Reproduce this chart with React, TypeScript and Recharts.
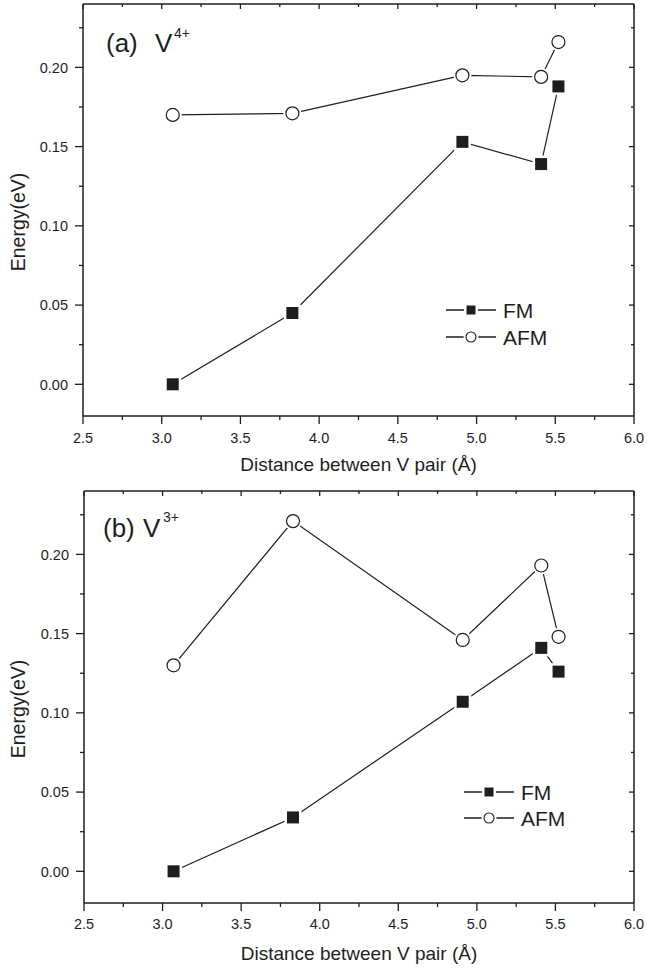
import React from 'react';
import { LineChart, Line, XAxis, YAxis, Legend, ReferenceLine, Label } from 'recharts';

// ---- data ----
const distances = [3.07, 3.83, 4.91, 5.41, 5.52];
const fmV4 = [0.0, 0.045, 0.153, 0.139, 0.188];
const afmV4 = [0.17, 0.171, 0.195, 0.194, 0.216];
const fmV3 = [0.0, 0.034, 0.107, 0.141, 0.126];
const afmV3 = [0.13, 0.221, 0.146, 0.193, 0.148];
const xTicks = [2.5, 2.75, 3.0, 3.25, 3.5, 3.75, 4.0, 4.25, 4.5, 4.75, 5.0, 5.25, 5.5, 5.75, 6.0];
const yTicks = [0, 0.025, 0.05, 0.075, 0.1, 0.125, 0.15, 0.175, 0.2, 0.225];
const xDomain: [number, number] = [2.5, 6.0];
const yDomain: [number, number] = [-0.02, 0.24];
const xTitle = 'Distance between V pair (\u00C5)';
const yTitle = 'Energy(eV)';
const seriesOrder = ['fm', 'afm'];

const dataV4 = distances.map((x, i) => ({ x, fm: fmV4[i], afm: afmV4[i] }));
const dataV3 = distances.map((x, i) => ({ x, fm: fmV3[i], afm: afmV3[i] }));

const FONT = '"Liberation Sans", Arial, Helvetica, sans-serif';
const INK = '#1e1e1e';

const SquareDot = (props: any) => {
  const { cx, cy } = props;
  if (cx == null || cy == null) return null;
  return (
    <g>
      <rect x={cx - 8.5} y={cy - 8.5} width={17} height={17} fill="#fff" />
      <rect x={cx - 6} y={cy - 6} width={12} height={12} fill={INK} />
    </g>
  );
};

const CircleDot = (props: any) => {
  const { cx, cy } = props;
  if (cx == null || cy == null) return null;
  return (
    <g>
      <circle cx={cx} cy={cy} r={9} fill="#fff" />
      <circle cx={cx} cy={cy} r={6.5} fill="#fff" stroke={INK} strokeWidth={1.2} />
    </g>
  );
};

const makeXTick = (plotH: number, labelDy: number) => (props: any) => {
  const { x, y, payload } = props;
  const v = payload.value as number;
  const major = Math.round(v * 100) % 50 === 0;
  const len = major ? 8 : 4;
  return (
    <g>
      <line x1={x} x2={x} y1={y} y2={y + len} stroke={INK} strokeWidth={1.3} />
      <line x1={x} x2={x} y1={y - plotH} y2={y - plotH + (major ? 5 : 3)} stroke={INK} strokeWidth={1.3} />
      {major && (
        <text x={x} y={y + labelDy} textAnchor="middle" fontSize={14.5} fontFamily={FONT} fill={INK}>
          {v.toFixed(1)}
        </text>
      )}
    </g>
  );
};

const makeYTick = (plotW: number) => (props: any) => {
  const { x, y, payload } = props;
  const v = payload.value as number;
  const major = Math.round(v * 1000) % 50 === 0;
  const len = major ? 8 : 4;
  return (
    <g>
      <line x1={x} x2={x - len} y1={y} y2={y} stroke={INK} strokeWidth={1.3} />
      <line x1={x + plotW} x2={x + plotW - (major ? 5 : 3)} y1={y} y2={y} stroke={INK} strokeWidth={1.3} />
      {major && (
        <text x={x - 15} y={y} dy="0.36em" textAnchor="end" fontSize={14.5} fontFamily={FONT} fill={INK}>
          {v.toFixed(2)}
        </text>
      )}
    </g>
  );
};

const makeLegend = (rowGap: number) => (props: any) => {
  const payload = ([...(props.payload || [])] as any[]).sort(
    (a, b) => seriesOrder.indexOf(String(a.dataKey)) - seriesOrder.indexOf(String(b.dataKey))
  );
  return (
    <svg width={140} height={60} style={{ display: 'block', overflow: 'visible' }}>
      {payload.map((item: any, i: number) => {
        const cy = 14 + i * rowGap;
        const isFM = item.dataKey === 'fm';
        return (
          <g key={String(item.dataKey)}>
            <line x1={0} x2={50} y1={cy} y2={cy} stroke={INK} strokeWidth={1.3} />
            {isFM ? (
              <g>
                <rect x={25 - 7} y={cy - 7} width={14} height={14} fill="#fff" />
                <rect x={25 - 4.5} y={cy - 4.5} width={9} height={9} fill={INK} />
              </g>
            ) : (
              <g>
                <circle cx={25} cy={cy} r={7.5} fill="#fff" />
                <circle cx={25} cy={cy} r={5} fill="#fff" stroke={INK} strokeWidth={1.1} />
              </g>
            )}
            <text x={57} y={cy} dy="0.36em" fontSize={21} fontFamily={FONT} fill={INK}>
              {item.value}
            </text>
          </g>
        );
      })}
    </svg>
  );
};

interface PanelProps {
  data: any[];
  height: number;
  marginTop: number;
  yAxisWidth: number;
  xAxisHeight: number;
  titleDy: number;
  labelDy: number;
  legendLeft: number;
  legendTop: number;
  legendGap: number;
  tag: string;
  sup: string;
  tagX: number;
  vX: number;
  supX: number;
  baseY: number;
  supY: number;
}

const Panel = (p: PanelProps) => {
  const width = 647;
  const marginRight = 13;
  const plotW = width - marginRight - p.yAxisWidth;
  const plotH = p.height - p.marginTop - p.xAxisHeight;
  return (
    <LineChart
      width={width}
      height={p.height}
      data={p.data}
      margin={{ top: p.marginTop, right: marginRight, bottom: 0, left: 0 }}
    >
      <XAxis
        type="number"
        dataKey="x"
        domain={xDomain}
        ticks={xTicks}
        interval={0}
        allowDataOverflow
        height={p.xAxisHeight}
        tickSize={0}
        tickMargin={0}
        tickLine={false}
        tick={makeXTick(plotH, p.labelDy)}
        axisLine={{ stroke: INK, strokeWidth: 1.5 }}
      >
        <Label
          content={(lp: any) => {
            const vb = lp.viewBox || {};
            return (
              <text
                x={vb.x + vb.width / 2}
                y={vb.y + p.titleDy}
                textAnchor="middle"
                fontSize={19}
                fontFamily={FONT}
                fill={INK}
              >
                {xTitle}
              </text>
            );
          }}
        />
      </XAxis>
      <YAxis
        type="number"
        domain={yDomain}
        ticks={yTicks}
        interval={0}
        allowDataOverflow
        width={p.yAxisWidth}
        tickSize={0}
        tickMargin={0}
        tickLine={false}
        tick={makeYTick(plotW)}
        axisLine={{ stroke: INK, strokeWidth: 1.5 }}
      >
        <Label
          content={(lp: any) => {
            const vb = lp.viewBox || {};
            const cx = 18;
            const cy = vb.y + vb.height / 2 + 12;
            return (
              <text
                x={cx}
                y={cy}
                dy="0.35em"
                textAnchor="middle"
                fontSize={19.5}
                fontFamily={FONT}
                fill={INK}
                transform={`rotate(-90, ${cx}, ${cy})`}
              >
                {yTitle}
              </text>
            );
          }}
        />
      </YAxis>
      <ReferenceLine y={yDomain[1]} stroke={INK} strokeWidth={1.5} />
      <ReferenceLine x={xDomain[1]} stroke={INK} strokeWidth={1.5} />
      <ReferenceLine
        y={yDomain[1]}
        stroke="none"
        label={() => (
          <g>
            <text x={p.tagX} y={p.baseY} fontSize={26} fontFamily={FONT} fill={INK}>
              {p.tag}
            </text>
            <text x={p.vX} y={p.baseY} fontSize={26} fontFamily={FONT} fill={INK}>
              V
            </text>
            <text x={p.supX} y={p.supY} fontSize={14} fontFamily={FONT} fill={INK}>
              {p.sup}
            </text>
          </g>
        )}
      />
      <Line
        type="linear"
        dataKey="fm"
        name="FM"
        stroke={INK}
        strokeWidth={1.2}
        dot={<SquareDot />}
        activeDot={false}
        isAnimationActive={false}
      />
      <Line
        type="linear"
        dataKey="afm"
        name="AFM"
        stroke={INK}
        strokeWidth={1.2}
        dot={<CircleDot />}
        activeDot={false}
        isAnimationActive={false}
      />
      <Legend
        layout="vertical"
        align="center"
        verticalAlign="middle"
        wrapperStyle={{ left: p.legendLeft, top: p.legendTop, width: 140, height: 60 }}
        content={makeLegend(p.legendGap)}
      />
    </LineChart>
  );
};

export default function App() {
  return (
    <div style={{ position: 'absolute', left: 0, top: 0, width: 647, height: 968, background: '#fff' }}>
      <div style={{ position: 'absolute', left: 0, top: 0 }}>
        <Panel
          data={dataV4}
          height={480}
          marginTop={4}
          yAxisWidth={83}
          xAxisHeight={64}
          titleDy={55}
          labelDy={27}
          legendLeft={446}
          legendTop={296}
          legendGap={27}
          tag="(a)"
          sup="4+"
          tagX={106}
          vX={155}
          supX={174}
          baseY={52}
          supY={38}
        />
      </div>
      <div style={{ position: 'absolute', left: 0, top: 480 }}>
        <Panel
          data={dataV3}
          height={488}
          marginTop={11}
          yAxisWidth={84}
          xAxisHeight={65}
          titleDy={57}
          labelDy={26}
          legendLeft={464}
          legendTop={298}
          legendGap={26}
          tag="(b)"
          sup="3+"
          tagX={103}
          vX={143}
          supX={163}
          baseY={57}
          supY={42}
        />
      </div>
    </div>
  );
}
